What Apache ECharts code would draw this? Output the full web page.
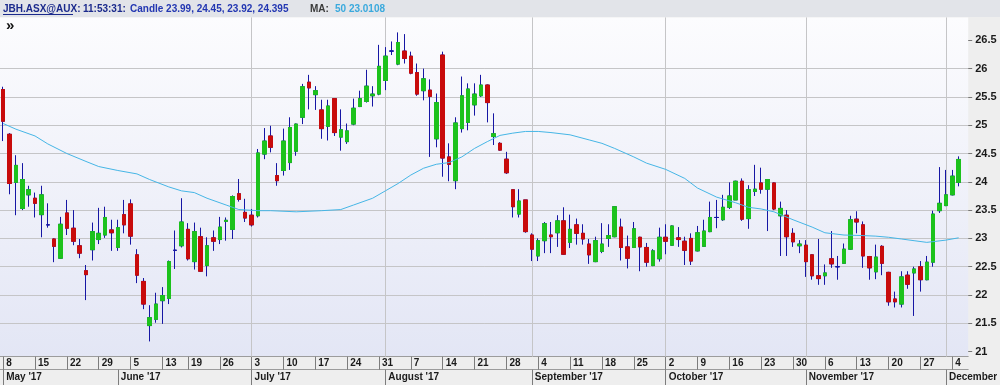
<!DOCTYPE html>
<html><head><meta charset="utf-8">
<script src="https://cdn.jsdelivr.net/npm/echarts@6/dist/echarts.min.js"></script>
<style>html,body{margin:0;padding:0;background:#eeeeee}#c{width:1000px;height:385px}</style>
</head><body><div id="c"></div>
<script>
// ---- trading days (categories) ----
const dates = [
 '2017-05-08','2017-05-09','2017-05-10','2017-05-11','2017-05-12','2017-05-15','2017-05-16','2017-05-17','2017-05-18','2017-05-19','2017-05-22','2017-05-23','2017-05-24','2017-05-25','2017-05-26','2017-05-29','2017-05-30','2017-05-31',
 '2017-06-01','2017-06-02','2017-06-05','2017-06-06','2017-06-07','2017-06-08','2017-06-09','2017-06-13','2017-06-14','2017-06-15','2017-06-16','2017-06-19','2017-06-20','2017-06-21','2017-06-22','2017-06-23','2017-06-26','2017-06-27','2017-06-28','2017-06-29','2017-06-30',
 '2017-07-03','2017-07-04','2017-07-05','2017-07-06','2017-07-07','2017-07-10','2017-07-11','2017-07-12','2017-07-13','2017-07-14','2017-07-17','2017-07-18','2017-07-19','2017-07-20','2017-07-21','2017-07-24','2017-07-25','2017-07-26','2017-07-27','2017-07-28','2017-07-31',
 '2017-08-01','2017-08-02','2017-08-03','2017-08-04','2017-08-07','2017-08-08','2017-08-09','2017-08-10','2017-08-11','2017-08-14','2017-08-15','2017-08-16','2017-08-17','2017-08-18','2017-08-21','2017-08-22','2017-08-23','2017-08-24','2017-08-25','2017-08-28','2017-08-29','2017-08-30','2017-08-31',
 '2017-09-01','2017-09-04','2017-09-05','2017-09-06','2017-09-07','2017-09-08','2017-09-11','2017-09-12','2017-09-13','2017-09-14','2017-09-15','2017-09-18','2017-09-19','2017-09-20','2017-09-21','2017-09-22','2017-09-25','2017-09-26','2017-09-27','2017-09-28','2017-09-29',
 '2017-10-02','2017-10-03','2017-10-04','2017-10-05','2017-10-06','2017-10-09','2017-10-10','2017-10-11','2017-10-12','2017-10-13','2017-10-16','2017-10-17','2017-10-18','2017-10-19','2017-10-20','2017-10-23','2017-10-24','2017-10-25','2017-10-26','2017-10-27','2017-10-30','2017-10-31',
 '2017-11-01','2017-11-02','2017-11-03','2017-11-06','2017-11-07','2017-11-08','2017-11-09','2017-11-10','2017-11-13','2017-11-14','2017-11-15','2017-11-16','2017-11-17','2017-11-20','2017-11-21','2017-11-22','2017-11-23','2017-11-24','2017-11-27','2017-11-28','2017-11-29','2017-11-30',
 '2017-12-01','2017-12-04','2017-12-05'
];
// ---- OHLC ----
const opens = [
 25.63,24.84,23.99,23.53,23.77,23.71,23.42,23.24,22.99,22.65,23.45,23.18,22.87,22.43,22.80,22.98,23.06,23.15,
 22.84,23.42,23.61,22.71,22.24,21.46,21.57,21.90,21.94,22.79,22.87,23.16,22.59,23.03,22.52,23.01,22.98,23.30,23.16,23.79,23.46,
 23.41,23.40,24.49,24.81,24.11,24.20,24.34,24.54,25.14,25.76,25.54,25.27,24.98,25.47,24.79,24.71,25.02,25.33,25.42,25.52,25.55,
 25.79,26.31,26.08,26.31,26.22,25.93,25.61,25.62,24.76,26.24,24.44,24.02,24.94,25.05,25.36,25.52,25.71,24.80,24.68,24.40,23.86,23.43,23.68,
 23.06,22.69,22.96,23.06,23.10,23.31,22.93,23.24,23.09,22.90,22.59,22.77,23.00,23.03,23.20,22.85,22.84,23.02,22.84,22.52,22.64,
 23.02,22.88,23.01,22.95,23.00,22.78,22.86,23.12,23.37,23.33,23.55,23.68,24.01,23.35,23.83,23.98,23.87,23.98,23.40,23.41,23.09,22.87,
 22.88,22.71,22.34,22.34,22.64,22.50,22.56,22.81,23.34,23.24,22.68,22.41,22.86,22.40,21.93,21.84,22.35,22.39,22.50,22.27,22.58,23.49,
 23.58,23.77,23.99
];
const highs = [
 25.68,24.86,24.47,24.33,23.93,23.81,23.93,23.62,23.00,23.38,23.68,23.50,22.99,22.53,23.28,23.54,23.56,23.33,
 23.33,23.68,23.69,22.81,22.30,21.82,22.04,22.14,22.61,23.14,23.71,23.27,23.28,23.19,23.02,23.14,23.38,23.37,23.76,24.05,23.70,
 23.52,24.58,24.95,24.99,24.33,24.94,25.14,25.03,25.73,25.89,25.69,25.45,25.45,25.48,25.28,25.03,25.47,25.61,25.98,25.69,26.42,
 26.38,26.48,26.64,26.61,26.30,26.09,26.00,25.81,25.56,26.30,24.68,25.14,25.86,25.74,25.74,25.89,25.72,25.21,24.70,24.53,23.87,23.87,23.68,
 23.09,23.00,23.29,23.29,23.41,23.55,23.42,23.35,23.25,22.99,23.03,23.27,23.25,23.57,23.35,23.05,23.29,23.03,22.92,22.81,23.19,
 23.25,23.23,23.20,23.03,23.09,23.22,23.33,23.65,23.68,23.77,23.99,24.02,24.06,23.94,24.30,24.25,24.05,23.99,23.65,23.50,23.18,22.97,
 22.97,22.72,22.99,22.54,23.13,22.69,22.91,23.40,23.48,23.30,22.69,22.89,22.88,22.41,22.06,22.42,22.42,22.50,22.60,22.69,23.49,24.26,
 24.21,24.21,24.45
];
const lows = [
 24.72,23.78,23.41,23.50,23.56,23.37,23.02,23.19,22.58,22.64,23.06,22.88,22.65,21.91,22.61,22.90,23.01,22.78,
 22.78,23.09,22.89,22.21,21.75,21.18,21.51,21.49,21.84,22.46,22.84,22.61,22.45,22.41,22.33,22.78,22.90,22.96,22.99,23.65,23.29,
 23.21,23.37,24.40,24.52,23.93,24.11,24.21,24.46,25.02,25.28,25.27,24.76,24.73,24.81,24.55,24.67,25.00,25.32,25.40,25.33,25.53,
 25.62,26.24,26.06,26.09,25.90,25.52,25.44,24.44,24.61,24.09,24.01,23.87,24.87,24.91,25.17,25.50,25.05,24.65,24.55,24.14,23.37,23.37,23.10,
 22.60,22.60,22.74,22.74,22.85,22.71,22.83,22.89,22.89,22.55,22.58,22.74,22.85,23.02,22.61,22.47,22.83,22.42,22.50,22.51,22.59,
 22.72,22.87,22.85,22.53,22.53,22.77,22.85,23.11,23.18,23.31,23.52,23.68,23.31,23.17,23.75,23.79,23.13,23.50,22.69,22.69,22.85,22.74,
 22.32,22.27,22.18,22.18,22.48,22.27,22.55,22.80,23.09,22.48,22.27,22.28,22.35,21.81,21.78,21.78,22.11,21.63,22.06,22.26,22.50,23.45,
 23.57,23.76,23.92
];
const closes = [
 25.07,23.97,24.29,24.04,23.86,23.62,23.77,23.24,22.86,23.25,23.18,22.95,22.74,22.36,23.12,23.09,23.37,23.10,
 23.19,23.24,23.04,22.35,21.84,21.60,21.84,21.99,22.59,22.79,23.29,22.64,23.12,22.42,22.87,22.95,23.20,23.32,23.74,23.69,23.36,
 23.24,24.51,24.72,24.61,24.02,24.72,24.96,25.02,25.68,25.66,25.61,24.94,25.34,24.87,24.92,24.90,25.30,25.47,25.69,25.55,26.04,
 26.22,26.31,26.46,26.18,25.92,25.55,25.82,25.51,25.40,24.42,24.31,25.04,25.52,25.64,25.55,25.71,25.40,24.85,24.56,24.16,23.56,23.66,23.12,
 22.81,22.96,23.26,23.03,23.31,22.72,23.16,23.09,22.99,22.71,22.96,22.90,23.05,23.56,22.84,22.65,23.17,22.85,22.58,22.78,23.02,
 22.95,23.22,22.98,22.79,22.60,23.10,23.13,23.37,23.37,23.55,23.75,24.01,23.34,23.86,23.87,23.87,24.04,23.52,23.53,23.03,22.94,22.90,
 22.59,22.34,22.29,22.39,22.55,22.50,22.81,23.33,23.29,22.69,22.48,22.67,22.56,21.88,21.88,22.32,22.19,22.46,22.27,22.58,23.43,23.62,
 23.77,24.10,24.395
];
// ---- 50-day moving average (null = not read; line joins the read points) ----
const ma50 = [
 25.03,null,24.93,null,null,24.81,null,24.67,null,null,24.50,null,null,24.36,null,24.27,null,null,
 24.20,null,null,24.14,null,24.04,null,null,23.91,null,23.84,null,23.81,null,23.71,null,null,23.59,null,23.51,null,
 null,23.49,null,23.49,null,null,null,23.47,null,null,null,23.49,null,null,23.51,null,23.59,null,null,23.71,null,
 23.84,null,23.97,null,24.12,null,24.24,null,24.31,null,24.34,null,24.44,null,24.59,null,24.71,null,24.82,null,24.86,null,24.89,
 null,24.89,null,24.87,null,null,24.83,null,null,24.74,null,24.68,null,24.59,null,null,24.44,null,24.33,null,null,
 24.22,null,null,24.06,null,23.89,null,null,23.73,null,null,23.63,null,23.55,null,23.52,null,23.47,null,null,23.33,null,
 null,23.20,null,23.10,null,null,23.06,null,null,23.05,null,23.04,null,23.02,null,22.99,null,22.96,null,22.93,null,null,
 22.97,null,23.0108
];
const yTicks = [21, 21.5, 22, 22.5, 23, 23.5, 24, 24.5, 25, 25.5, 26, 26.5];
const monthGridDates = ['2017-07-03','2017-08-01','2017-09-01','2017-10-02','2017-11-01','2017-12-01'];
const monthNames = ['January','February','March','April','May','June','July','August','September','October','November','December'];

const FONT = 'Tahoma, "Liberation Sans", Arial, sans-serif';
const GREEN = '#1cc21c', RED = '#c80b0b', WICK = '#1616a4', MA = '#46b6e6';

const axisCategories = dates.concat(['']);
const dow = s => new Date(s + 'T00:00:00Z').getUTCDay();
const isWeekStart = (i) => i < dates.length && (i === 0 || dow(dates[i]) <= dow(dates[i - 1]));
const isMonthStart = (i) => i < dates.length && (i === 0 || dates[i].slice(5, 7) !== dates[i - 1].slice(5, 7));

const wickData = dates.map((d, i) => [opens[i], closes[i], lows[i], highs[i]]);
const bodyData = dates.map((d, i) => [opens[i], closes[i], Math.min(opens[i], closes[i]), Math.max(opens[i], closes[i])]);
const last = dates.length - 1;
let lastMa = null; for (let i = last; i >= 0; i--) { if (ma50[i] != null) { lastMa = ma50[i]; break; } }

const chart = echarts.init(document.getElementById('c'), null, {renderer: 'canvas'});
const hdrFont = 'bold 10px ' + FONT;
chart.setOption({
  animation: false,
  backgroundColor: '#eeeeee',
  grid: {
    left: 0, right: 31.8, top: 17.4, bottom: 28.3,
    show: true, borderWidth: 0, containLabel: false, outerBoundsMode: 'none',
    backgroundColor: {type: 'linear', x: 0, y: 0, x2: 0, y2: 1,
      colorStops: [{offset: 0, color: '#fcfcfe'}, {offset: 1, color: '#e3e6f5'}]}
  },
  xAxis: [
    {
      type: 'category', data: axisCategories, boundaryGap: true, position: 'bottom',
      axisLine: {show: true, lineStyle: {color: '#9c9c9c', width: 1}},
      axisTick: {show: true, alignWithLabel: true, length: 13, interval: (i) => isWeekStart(i), lineStyle: {color: '#7c7c7c'}},
      axisLabel: {interval: (i) => isWeekStart(i), formatter: v => v ? String(+v.slice(8, 10)) : '',
        align: 'left', padding: [0, 0, 0, 3], margin: 2, hideOverlap: false,
        fontSize: 10, fontWeight: 'bold', color: '#1a1a1a', fontFamily: FONT},
      splitLine: {show: false}
    },
    {
      type: 'category', data: axisCategories, boundaryGap: true, position: 'bottom', offset: 13,
      axisLine: {show: true, lineStyle: {color: '#9c9c9c', width: 1}},
      axisTick: {show: true, alignWithLabel: true, length: 16, interval: (i) => isMonthStart(i), lineStyle: {color: '#7c7c7c'}},
      axisLabel: {interval: (i) => isMonthStart(i),
        formatter: v => v ? monthNames[+v.slice(5, 7) - 1] + " '" + v.slice(2, 4) : '',
        align: 'left', padding: [0, 0, 0, 3], margin: 3, hideOverlap: false,
        fontSize: 10, fontWeight: 'bold', color: '#1a1a1a', fontFamily: FONT},
      splitLine: {show: false}
    }
  ],
  yAxis: {
    type: 'value', position: 'right', min: 20.91, max: 26.905, splitNumber: 12,
    axisLine: {show: false},
    axisTick: {show: true, length: 4, customValues: yTicks, lineStyle: {color: '#777777'}},
    axisLabel: {customValues: yTicks, margin: 7, color: '#1a1a1a', fontWeight: 'bold', fontSize: 11, fontFamily: FONT,
      showMinLabel: true, showMaxLabel: true},
    splitLine: {show: true, showMinLine: false, showMaxLine: false, lineStyle: {color: '#c5c5c7', width: 1}}
  },
  series: [
    {
      type: 'candlestick', name: 'wick', xAxisIndex: 0, barWidth: 4, silent: true,
      data: wickData,
      itemStyle: {color: GREEN, color0: RED, borderColor: WICK, borderColor0: WICK, borderColorDoji: WICK, borderWidth: 1},
      markLine: {
        silent: true, z: 1, symbol: ['none', 'none'], label: {show: false},
        lineStyle: {color: '#c5c5c7', width: 1, type: 'solid'},
        emphasis: {disabled: true},
        data: monthGridDates.map(d => ({xAxis: dates.indexOf(d)}))
      }
    },
    {
      type: 'candlestick', name: 'body', xAxisIndex: 0, barWidth: 4, silent: true,
      data: bodyData,
      itemStyle: {color: GREEN, color0: RED, borderColor: GREEN, borderColor0: RED, borderColorDoji: WICK, borderWidth: 1}
    },
    {
      type: 'line', name: 'MA 50', xAxisIndex: 0, data: ma50, connectNulls: true, z: 3,
      showSymbol: false, symbol: 'none', silent: true,
      lineStyle: {color: MA, width: 1}
    }
  ],
  graphic: [
    {type: 'rect', shape: {x: 0, y: 0, width: 1000, height: 17}, style: {fill: '#e2e4e9'}, silent: true, z: 10},
    {type: 'text', x: 3, y: 9, z: 11, silent: true,
      style: {text: 'JBH.ASX@AUX:', fill: '#1b2a8c', font: hdrFont, verticalAlign: 'middle'}},
    {type: 'line', shape: {x1: 3, y1: 14.5, x2: 73, y2: 14.5}, style: {stroke: '#1b2a8c', lineWidth: 1}, z: 11, silent: true},
    {type: 'text', x: 83, y: 9, z: 11, silent: true,
      style: {text: '11:53:31:', fill: '#1b2a8c', font: hdrFont, verticalAlign: 'middle'}},
    {type: 'text', x: 130, y: 9, z: 11, silent: true,
      style: {text: 'Candle ' + opens[last] + ', ' + highs[last] + ', ' + lows[last] + ', ' + closes[last],
        fill: '#2337b2', font: hdrFont, verticalAlign: 'middle'}},
    {type: 'text', x: 310, y: 9, z: 11, silent: true,
      style: {text: 'MA:', fill: '#3a3a3a', font: hdrFont, verticalAlign: 'middle'}},
    {type: 'text', x: 335, y: 9, z: 11, silent: true,
      style: {text: '50 ' + lastMa, fill: '#3aa9dd', font: hdrFont, verticalAlign: 'middle'}},
    {type: 'text', x: 6, y: 26, z: 11, silent: true,
      style: {text: '\u00bb', fill: '#111111', font: 'bold 15px ' + FONT, verticalAlign: 'middle'}}
  ]
});
</script></body></html>
